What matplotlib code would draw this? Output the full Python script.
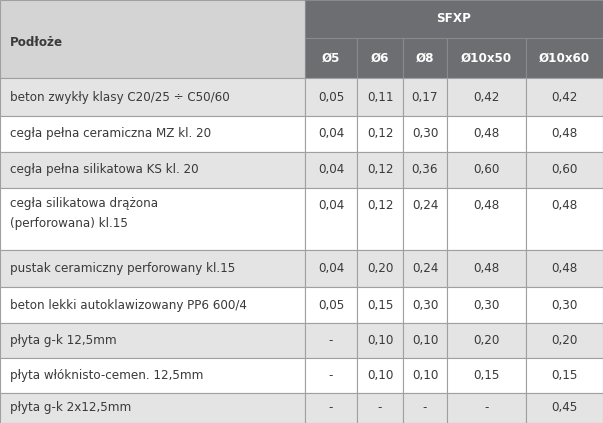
import matplotlib.pyplot as plt
from matplotlib.patches import Rectangle

plt.rcParams['font.family'] = ['DejaVu Sans']
plt.rcParams['font.stretch'] = 'condensed'

group_label = "SFXP"
first_header = "Podłoże"
columns = ["Ø5", "Ø6", "Ø8", "Ø10x50", "Ø10x60"]
substrates = [
    "beton zwykły klasy C20/25 ÷ C50/60",
    "cegła pełna ceramiczna MZ kl. 20",
    "cegła pełna silikatowa KS kl. 20",
    "cegła silikatowa drążona\n(perforowana) kl.15",
    "pustak ceramiczny perforowany kl.15",
    "beton lekki autoklawizowany PP6 600/4",
    "płyta g-k 12,5mm",
    "płyta włóknisto-cemen. 12,5mm",
    "płyta g-k 2x12,5mm",
]
values = [
    ["0,05", "0,11", "0,17", "0,42", "0,42"],
    ["0,04", "0,12", "0,30", "0,48", "0,48"],
    ["0,04", "0,12", "0,36", "0,60", "0,60"],
    ["0,04", "0,12", "0,24", "0,48", "0,48"],
    ["0,04", "0,20", "0,24", "0,48", "0,48"],
    ["0,05", "0,15", "0,30", "0,30", "0,30"],
    ["-", "0,10", "0,10", "0,20", "0,20"],
    ["-", "0,10", "0,10", "0,15", "0,15"],
    ["-", "-", "-", "-", "0,45"],
]

col_x = [0, 305, 357, 403, 447, 526, 603]
row_y = [78, 116, 152, 188, 250, 287, 323, 358, 393, 423]

fig = plt.figure(figsize=(6.03, 4.23), dpi=100)
ax = fig.add_axes([0, 0, 1, 1])
ax.set_xlim(0, 603)
ax.set_ylim(423, 0)
ax.axis('off')

txt = '#3a3a3a'
line = '#a0a0a0'
dark = '#6d6e71'
fs = 9.5

# header
ax.add_patch(Rectangle((0, 0), col_x[1], 78, fc='#d4d4d4', ec=line, lw=0.8))
ax.text(10, 42, first_header, ha='left', va='center', fontsize=fs, fontweight='bold', color=txt)
ax.add_patch(Rectangle((col_x[1], 0), 603 - col_x[1], 38, fc=dark, ec='#8a8a8a', lw=0.8))
ax.text((col_x[1] + 603) / 2, 19, group_label, ha='center', va='center', fontsize=fs, fontweight='bold', color='white')
for j, c in enumerate(columns):
    x0, x1 = col_x[j + 1], col_x[j + 2]
    ax.add_patch(Rectangle((x0, 38), x1 - x0, 40, fc=dark, ec='#8a8a8a', lw=0.8))
    ax.text((x0 + x1) / 2, 58, c, ha='center', va='center', fontsize=fs, fontweight='bold', color='white')

# body
for i, (name, vals) in enumerate(zip(substrates, values)):
    y0, y1 = row_y[i], row_y[i + 1]
    fc = '#e4e4e4' if i % 2 == 0 else 'white'
    for j in range(len(col_x) - 1):
        ax.add_patch(Rectangle((col_x[j], y0), col_x[j + 1] - col_x[j], y1 - y0, fc=fc, ec=line, lw=0.8))
    if '\n' in name:
        ax.text(10, y0 + 9, name, ha='left', va='top', fontsize=fs, color=txt, linespacing=1.7)
        vy = y0 + 17
    else:
        ax.text(10, (y0 + y1) / 2, name, ha='left', va='center', fontsize=fs, color=txt)
        vy = (y0 + y1) / 2
    for j, v in enumerate(vals):
        ax.text((col_x[j + 1] + col_x[j + 2]) / 2, vy, v, ha='center', va='center', fontsize=fs, color=txt)

fig.savefig('out.png', dpi=100)
